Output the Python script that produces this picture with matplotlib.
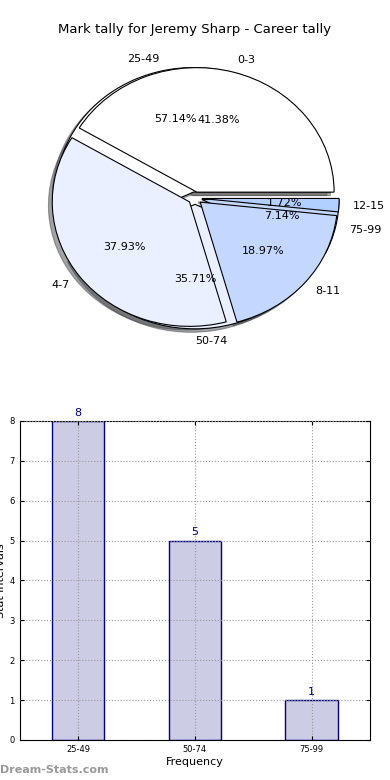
import matplotlib
matplotlib.use("Agg")
import matplotlib.pyplot as plt

# mark tally (outer pie, drawn on top)
tally_labels = ["0-3", "4-7", "8-11", "12-15"]
tally_counts = [24, 22, 11, 1]
tally_colors = ["#ffffff", "#eaf0ff", "#c4d8ff", "#b2d0ff"]

# stat intervals
interval_labels = ["25-49", "50-74", "75-99"]
interval_counts = [8, 5, 1]
interval_colors = ["#ffffff", "#eaf0ff", "#c4d8ff"]

fig = plt.figure(figsize=(3.9, 7.8), dpi=100)

# --- pie ---
ax1 = fig.add_axes([0.06, 0.5465, 0.88, 0.399])
wedge_kw = {"linewidth": 0.8, "edgecolor": "black"}
ax1.pie(interval_counts, labels=interval_labels, colors=interval_colors,
        explode=[0.05] * len(interval_counts), autopct="%1.2f%%",
        shadow=True, wedgeprops=wedge_kw, textprops={"fontsize": 8})
ax1.pie(tally_counts, labels=tally_labels, colors=tally_colors,
        explode=[0.05] * len(tally_counts), autopct="%1.2f%%",
        shadow=True, wedgeprops=wedge_kw, textprops={"fontsize": 8})
ax1.set_aspect("auto")
ax1.set_xlim(-1.25, 1.25)
ax1.set_ylim(-1.25, 1.25)
fig.text(0.5, 1 - 30 / 780, "Mark tally for Jeremy Sharp - Career tally",
         ha="center", va="center", fontsize=9.5)

# --- bars ---
ax2 = fig.add_axes([0.05, 0.0513, 0.899, 0.409])
x = range(len(interval_counts))
ax2.bar(x, interval_counts, width=0.45, color="#ccccE5", edgecolor="#000080",
        linewidth=1, zorder=1)
for xi, v in zip(x, interval_counts):
    ax2.text(xi, v + 0.08, str(v), ha="center", va="bottom",
             color="#000080", fontsize=8)
ax2.set_xlim(-0.5, 2.5)
ax2.set_ylim(0, 8)
ax2.set_xticks(list(x))
ax2.set_xticklabels(interval_labels)
ax2.set_yticks(range(9))
ax2.tick_params(labelsize=6, direction="in", top=True, right=True, length=3)
ax2.grid(True, linestyle=":", color="#999999", linewidth=0.8, zorder=2)
ax2.set_axisbelow(False)
ax2.set_xlabel("Frequency", fontsize=8, labelpad=2)
ax2.set_ylabel("Stat intervals", fontsize=8, labelpad=2)

fig.text(0.0, 1 - 770 / 780, "Dream-Stats.com", color="#999999",
         fontsize=8, fontweight="bold", ha="left", va="center")

fig.savefig("out.png", dpi=100)
